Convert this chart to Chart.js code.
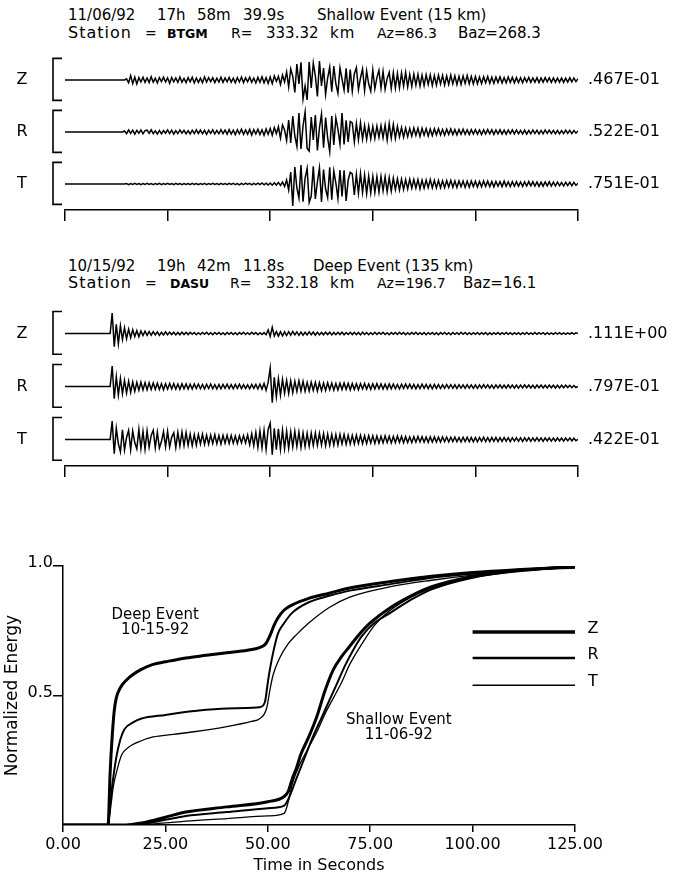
<!DOCTYPE html>
<html lang="en">
<head>
<meta charset="UTF-8">
<title>Shallow vs Deep Event - Normalized Energy</title>
<script src="https://cdn.jsdelivr.net/npm/chart.js@4.4.0/dist/chart.umd.min.js"></script>
<style>
  body { margin: 0; background: #fff; }
  #page { position: relative; width: 679px; height: 877px; overflow: hidden; font-family: "DejaVu Sans", sans-serif; color: #000; }
  .t { position: absolute; line-height: 1; white-space: pre; transform: translateY(-50%); }
  canvas { position: absolute; left: 0; }
</style>
</head>
<body>
<div id="page">
  <!-- shallow event header -->
  <span class="t" style="left:68px;top:15px;font-size:15px">11/06/92</span>
  <span class="t" style="left:157px;top:15px;font-size:15px">17h</span>
  <span class="t" style="left:197px;top:15px;font-size:15px">58m</span>
  <span class="t" style="left:243px;top:15px;font-size:15px">39.9s</span>
  <span class="t" style="left:317px;top:15px;font-size:15px">Shallow Event (15 km)</span>
  <span class="t" style="left:68px;top:33px;font-size:16px;letter-spacing:1px">Station</span>
  <span class="t" style="left:145px;top:33px;font-size:14px">=</span>
  <span class="t" style="left:167px;top:34px;font-size:12.5px;font-weight:bold">BTGM</span>
  <span class="t" style="left:231px;top:33px;font-size:14px">R=</span>
  <span class="t" style="left:266px;top:33px;font-size:15px">333.32</span>
  <span class="t" style="left:330px;top:33px;font-size:15px;letter-spacing:1px">km</span>
  <span class="t" style="left:377px;top:33px;font-size:14px">Az=86.3</span>
  <span class="t" style="left:458px;top:33px;font-size:15px">Baz=268.3</span>

  <!-- deep event header -->
  <span class="t" style="left:68px;top:266px;font-size:15px">10/15/92</span>
  <span class="t" style="left:157px;top:266px;font-size:15px">19h</span>
  <span class="t" style="left:197px;top:266px;font-size:15px">42m</span>
  <span class="t" style="left:243px;top:266px;font-size:15px">11.8s</span>
  <span class="t" style="left:313px;top:266px;font-size:15px">Deep Event (135 km)</span>
  <span class="t" style="left:68px;top:283px;font-size:16px;letter-spacing:1px">Station</span>
  <span class="t" style="left:145px;top:283px;font-size:14px">=</span>
  <span class="t" style="left:170px;top:284px;font-size:12.5px;font-weight:bold">DASU</span>
  <span class="t" style="left:230px;top:283px;font-size:14px">R=</span>
  <span class="t" style="left:266px;top:283px;font-size:15px">332.18</span>
  <span class="t" style="left:330px;top:283px;font-size:15px;letter-spacing:1px">km</span>
  <span class="t" style="left:377px;top:283px;font-size:14px">Az=196.7</span>
  <span class="t" style="left:463px;top:283px;font-size:15px">Baz=16.1</span>

  <canvas id="shallowChart" width="679" height="180" style="top:44px"></canvas>
  <canvas id="deepChart" width="679" height="183" style="top:297px"></canvas>
  <canvas id="energyChart" width="679" height="337" style="top:540px"></canvas>
</div>

<script>
  // ---- seismogram samples, every 0.5 s, in % of each trace's peak ----
  const seisTimes = Array.from({length: 251}, (_, i) => i * 0.5);
  const components = ['Z', 'R', 'T'];

  const shallowZ = [
    0,0,0,0,0,0,0,0,0,0,0,0,0,0,0,0,0,0,0,0,
    0,0,0,0,0,0,0,0,0,0,6,-14,22,-18,15,-20,12,-10,14,-12,
    10,-13,16,-11,9,-15,12,-8,14,-10,11,-16,13,-9,10,-12,15,-11,8,-13,
    12,-9,14,-15,10,-12,9,-14,16,-10,12,-8,11,-13,9,-10,14,-12,10,-9,
    13,-11,9,-14,12,-10,15,-13,11,-9,14,-12,10,-15,13,-11,16,-14,12,-17,
    15,-18,20,-6,18,-22,25,-10,40,-35,55,18,-62,80,-20,88,-95,-30,-100,90,
    -40,85,20,-82,95,-30,60,-72,10,65,-58,70,-20,-66,60,5,-50,58,-64,52,
    -56,30,62,-48,10,55,-52,45,-20,-56,50,-44,12,48,-40,42,-46,8,38,-42,
    36,-40,32,-38,35,-30,38,-34,28,-32,30,-26,28,-30,24,-28,26,-22,25,-27,
    22,-26,24,-20,23,-25,20,-22,24,-19,21,-23,18,-22,20,-17,22,-19,18,-20,
    17,-19,15,-18,16,-14,18,-16,14,-17,15,-13,16,-15,12,-14,15,-12,13,-14,
    12,-13,11,-14,12,-10,13,-12,10,-11,12,-13,10,-11,12,-9,11,-12,10,-11,
    9,-11,10,-12,9,-10,11,-9,10,-8,6
  ];
  const shallowR = [
    0,0,0,0,0,0,0,0,0,0,0,0,0,0,0,0,0,0,0,0,
    0,0,0,0,0,0,0,0,0,5,-8,10,-7,9,-11,8,-6,10,-9,7,
    9,-7,11,-8,6,-10,8,-9,7,-6,10,-8,9,-11,7,-8,10,-6,8,-9,
    7,-10,9,-8,11,-7,10,-9,8,-12,9,-7,11,-10,8,-9,12,-8,10,-11,
    12,-10,9,-13,11,-9,14,-12,10,-11,13,-15,12,-10,14,-13,11,-16,15,-12,
    18,-16,22,-8,26,-30,35,10,-42,60,-55,80,-20,-72,95,-85,30,100,-82,-95,
    75,-40,85,-92,20,90,-78,72,-30,-98,80,-65,70,15,-60,95,-62,58,-50,52,
    45,-50,42,-38,46,-35,32,-36,30,-34,28,-32,30,-26,32,-28,35,-40,42,-30,
    38,-32,28,-24,22,-26,20,-23,18,-21,20,-17,19,-22,18,-16,17,-20,15,-18,
    16,-14,17,-15,13,-16,14,-12,15,-13,12,-14,13,-11,14,-12,11,-13,12,-10,
    12,-11,10,-13,11,-10,12,-9,11,-12,10,-9,11,-10,9,-11,10,-8,11,-9,
    10,-9,8,-10,9,-11,8,-9,10,-8,9,-10,8,-9,10,-7,9,-8,8,-9,
    8,-9,7,-8,9,-7,8,-8,7,-6,5
  ];
  const shallowT = [
    0,0,0,0,0,0,0,0,0,0,0,0,0,0,0,0,0,0,0,0,
    0,0,0,0,0,0,0,0,0,0,2,-3,2,-2,3,-2,2,-3,2,-2,
    3,-2,2,-3,2,-2,3,-3,2,-2,3,-2,2,-3,3,-2,2,-3,2,-2,
    2,-3,3,-2,2,-3,2,-2,3,-3,2,-2,3,-2,2,-3,3,-2,2,-3,
    3,-2,3,-3,2,-4,3,-3,4,-2,3,-4,3,-3,4,-3,5,-4,4,-5,
    5,-6,6,-5,8,-7,10,-12,20,-30,60,-110,85,-20,-70,95,-88,30,78,-92,
    -60,88,-75,10,80,-90,72,-25,-68,84,-78,65,5,-72,70,-62,68,-85,20,58,
    50,-55,48,-46,52,-42,45,-48,40,-44,38,-42,36,-40,38,-34,36,-38,32,-35,
    30,-28,26,-30,24,-27,22,-25,24,-21,23,-20,22,-24,19,-21,20,-18,22,-19,
    18,-20,17,-19,16,-18,17,-15,18,-16,15,-17,16,-14,15,-17,14,-16,15,-13,
    14,-15,13,-14,15,-12,14,-13,12,-14,13,-11,12,-13,14,-12,11,-13,12,-11,
    12,-11,10,-12,11,-10,12,-9,11,-10,10,-12,9,-11,10,-9,11,-10,9,-10,
    10,-9,8,-10,9,-8,9,-9,8,-7,4
  ];
  const deepZ = [
    0,0,0,0,0,0,0,0,0,0,0,0,0,0,0,0,0,0,0,0,
    0,0,0,100,-65,45,-50,38,-30,28,-25,22,-20,18,-15,14,-16,12,-10,11,
    -9,10,-8,9,-7,8,-9,6,-7,8,-6,7,-5,6,-7,5,-6,7,-5,6,
    -5,6,-4,5,-6,4,-5,5,-4,6,-5,4,-6,5,-4,5,-5,4,-6,5,
    -4,5,-5,4,-6,5,-4,6,-5,4,-5,6,-4,5,-6,4,-5,5,-6,18,
    -14,30,-12,10,-13,9,-11,8,-10,9,-8,10,-7,8,-9,7,-8,6,-7,8,
    -6,7,-8,6,-7,5,-6,7,-5,6,-7,5,-6,6,-5,7,-6,5,-5,6,
    -5,6,-6,5,-7,6,-5,5,-6,4,-5,6,-5,5,-4,6,-5,4,-6,5,
    -4,5,-5,6,-4,5,-6,4,-5,5,-4,6,-5,4,-5,5,-6,4,-4,5,
    -5,4,-6,5,-4,5,-5,4,-6,5,-4,4,-5,6,-4,5,-5,4,-5,4,
    -4,5,-5,4,-4,5,-6,4,-5,4,-4,5,-5,4,-4,5,-4,4,-5,4,
    -4,4,-5,4,-4,5,-4,3,-4,5,-4,4,-3,4,-5,4,-4,3,-4,4,
    -3,4,-4,3,-4,3,-3,4,-3,3,0
  ];
  const deepR = [
    0,0,0,0,0,0,0,0,0,0,0,0,0,0,0,0,0,0,0,0,
    0,0,0,100,-60,48,-42,40,-35,30,-32,26,-28,22,-24,20,-18,21,-17,19,
    -16,18,-15,17,-14,16,-15,13,-16,14,-13,15,-12,14,-13,12,-14,13,-11,12,
    -13,11,-12,13,-10,12,-11,10,-12,11,-10,12,-11,9,-12,10,-11,10,-9,11,
    -10,9,-11,10,-9,11,-10,9,-10,8,-11,10,-9,10,-12,11,-13,15,-18,20,
    90,-80,45,-50,38,-42,35,-32,30,-34,28,-30,26,-24,28,-22,25,-23,20,-22,
    21,-19,20,-22,18,-20,17,-19,18,-16,17,-18,15,-17,16,-15,17,-14,15,-16,
    14,-15,13,-16,14,-12,15,-13,12,-14,13,-12,14,-11,12,-13,11,-12,13,-11,
    12,-11,10,-12,11,-10,12,-9,11,-10,10,-11,9,-10,11,-9,10,-10,9,-11,
    10,-9,9,-10,8,-9,10,-8,9,-9,8,-10,9,-8,8,-9,9,-8,8,-9,
    8,-9,8,-8,9,-7,8,-8,7,-9,8,-7,8,-8,7,-8,8,-7,7,-8,
    7,-8,7,-7,8,-6,7,-7,6,-8,7,-6,7,-7,6,-7,7,-6,6,-7,
    6,-7,6,-6,7,-5,6,-6,5,-5,0
  ];
  const deepT = [
    0,0,0,0,0,0,0,0,0,0,0,0,0,0,0,0,0,0,0,0,
    0,0,0,90,-70,55,-20,-60,48,-52,10,45,-50,42,-15,-46,50,-44,40,-48,
    42,-38,20,45,-40,36,-42,-10,38,-35,40,-37,12,33,-39,35,-32,36,-30,34,
    -28,26,-30,24,-27,25,-22,26,-24,21,-23,22,-20,24,-21,19,-22,20,-18,21,
    -19,20,-18,17,-20,18,-16,19,-17,22,-25,28,-30,35,-38,42,-40,45,-48,50,
    80,-75,55,-50,52,-48,46,-44,40,-42,38,-36,40,-34,36,-38,32,-35,30,-33,
    31,-29,32,-28,30,-27,29,-30,26,-28,25,-27,24,-26,25,-22,24,-23,21,-22,
    20,-22,21,-19,20,-21,18,-20,19,-17,18,-19,17,-18,16,-17,18,-15,16,-17,
    15,-16,17,-14,15,-16,14,-15,13,-15,14,-13,15,-12,14,-13,12,-14,13,-12,
    13,-12,11,-13,12,-11,12,-12,11,-10,12,-11,10,-12,11,-10,11,-11,10,-11,
    10,-11,10,-9,11,-10,9,-10,10,-9,10,-10,9,-9,10,-8,9,-10,9,-8,
    9,-9,8,-10,9,-8,9,-9,8,-8,9,-8,8,-9,8,-7,8,-8,7,-8,
    8,-7,7,-8,7,-6,7,-7,6,-6,0
  ];
  const shallowPeaks = ['.467E-01', '.522E-01', '.751E-01'];
  const deepPeaks = ['.111E+00', '.797E-01', '.422E-01'];

  // ---- cumulative normalized energy (time in s, value 0..1) ----
  const deepZTime = [0,11,11.5,12,12.5,13,14,15.5,17,19,22,25,30,35,40,45,48,49.5,50.5,51.5,52.5,54,56,60,65,70,80,90,100,110,125];
  const deepZEnergy = [0,0,0.2,0.34,0.44,0.49,0.53,0.56,0.58,0.6,0.62,0.63,0.645,0.655,0.665,0.675,0.685,0.7,0.73,0.77,0.8,0.83,0.85,0.875,0.895,0.915,0.94,0.96,0.975,0.985,0.995];
  const deepRTime = [0,11,11.5,12,13,14,15,17,19,25,32,40,48,49.3,50,50.5,51.5,52.5,54,56,60,65,70,80,90,100,110,125];
  const deepREnergy = [0,0,0.08,0.15,0.26,0.33,0.37,0.395,0.41,0.425,0.44,0.45,0.455,0.475,0.55,0.6,0.68,0.74,0.78,0.82,0.86,0.885,0.905,0.93,0.955,0.97,0.985,0.995];
  const deepTTime = [0,11,11.5,12.3,13,14.3,16,18.3,22,27,32,40,46,48,49.7,50.5,51.3,52.9,55,57,60,65,70,80,90,100,110,125];
  const deepTEnergy = [0,0,0.05,0.15,0.2,0.27,0.3,0.32,0.34,0.35,0.36,0.38,0.4,0.41,0.45,0.52,0.58,0.645,0.7,0.735,0.78,0.84,0.88,0.92,0.945,0.965,0.98,0.995];
  const shallowZTime = [0,14,20,25,30,40,50,54,55,56,57,58,60,62,64,66,68,70,72,75,80,85,90,100,110,125];
  const shallowZEnergy = [0,0,0.01,0.03,0.05,0.07,0.09,0.11,0.13,0.18,0.22,0.27,0.34,0.42,0.52,0.6,0.65,0.69,0.73,0.78,0.84,0.885,0.92,0.96,0.98,1.0];
  const shallowRTime = [0,16,20,25,30,40,50,54,55,57,59,61,63,65,67,69,71,73,76,80,85,90,100,110,125];
  const shallowREnergy = [0,0,0.005,0.02,0.035,0.05,0.065,0.075,0.1,0.18,0.26,0.34,0.41,0.48,0.55,0.62,0.68,0.73,0.78,0.82,0.87,0.91,0.955,0.98,1.0];
  const shallowTTime = [0,18,25,30,40,50,54,55,56,58,60,62,64,66,68,70,73,76,80,85,90,100,110,125];
  const shallowTEnergy = [0,0,0.008,0.015,0.025,0.035,0.045,0.09,0.16,0.24,0.3,0.36,0.43,0.49,0.55,0.62,0.7,0.77,0.83,0.88,0.915,0.955,0.98,1.0];

  const energyTicksX = [0, 25, 50, 75, 100, 125];
  const energyTicksY = [0.5, 1.0];

  Chart.defaults.font.family = '"DejaVu Sans", sans-serif';
  Chart.defaults.color = '#000';

  // brackets, component letters and peak amplitudes next to each trace
  const tracePlugin = {
    id: 'traceLabels',
    afterDraw(chart, args, opts) {
      const ctx = chart.ctx;
      const left = chart.chartArea.left, right = chart.chartArea.right;
      ctx.save();
      ctx.strokeStyle = '#000';
      ctx.fillStyle = '#000';
      ctx.lineWidth = 1.6;
      ctx.font = '16px "DejaVu Sans"';
      ctx.textBaseline = 'middle';
      components.forEach((c, i) => {
        const s = chart.scales['y' + c];
        const top = s.getPixelForValue(108), bot = s.getPixelForValue(-102), mid = s.getPixelForValue(0);
        ctx.beginPath();
        ctx.moveTo(left - 3, top);
        ctx.lineTo(left - 12, top);
        ctx.lineTo(left - 12, bot);
        ctx.lineTo(left - 3, bot);
        ctx.stroke();
        ctx.textAlign = 'center';
        ctx.fillText(c, 22, mid);
        ctx.textAlign = 'left';
        ctx.fillText(opts.peaks[i], right + 10, mid);
      });
      ctx.restore();
    }
  };

  function seismoChart(id, traces, peaks) {
    const scales = {
      x: {
        type: 'linear', min: 0, max: 125,
        ticks: {display: false, stepSize: 25},
        grid: {drawOnChartArea: false, color: '#000', lineWidth: 1.5, tickLength: 11},
        border: {color: '#000', width: 1.5},
        afterFit(s) { s.height = 12; }
      }
    };
    components.forEach((c, i) => {
      scales['y' + c] = {
        type: 'linear', position: 'left', stack: 'traces', stackWeight: 1, weight: 3 - i,
        min: -130, max: 130,
        ticks: {display: false},
        grid: {display: false, drawTicks: false},
        border: {display: false},
        afterFit(s) { s.width = 0; }
      };
    });
    return new Chart(document.getElementById(id), {
      type: 'line',
      data: {
        labels: seisTimes,
        datasets: traces.map((d, i) => ({
          data: d, yAxisID: 'y' + components[i],
          borderColor: '#000', borderWidth: 1.5, pointRadius: 0, tension: 0, fill: false
        }))
      },
      options: {
        responsive: false, animation: false,
        layout: {padding: {left: 65, right: 101, top: 10, bottom: 2}},
        plugins: {legend: {display: false}, tooltip: {enabled: false}, traceLabels: {peaks: peaks}},
        scales: scales
      },
      plugins: [tracePlugin]
    });
  }

  seismoChart('shallowChart', [shallowZ, shallowR, shallowT], shallowPeaks);
  seismoChart('deepChart', [deepZ, deepR, deepT], deepPeaks);

  // legend lines and event captions inside the energy plot
  const energyNotes = {
    id: 'energyNotes',
    afterDatasetsDraw(chart) {
      const {ctx, scales: {x, y}} = chart;
      ctx.save();
      ctx.fillStyle = '#000';
      ctx.strokeStyle = '#000';
      ctx.font = '15px "DejaVu Sans"';
      ctx.textAlign = 'center';
      ctx.textBaseline = 'middle';
      ctx.fillText('Deep Event', x.getPixelForValue(22.5), y.getPixelForValue(0.81));
      ctx.fillText('10-15-92', x.getPixelForValue(22.5), y.getPixelForValue(0.753));
      ctx.fillText('Shallow Event', x.getPixelForValue(82), y.getPixelForValue(0.405));
      ctx.fillText('11-06-92', x.getPixelForValue(82), y.getPixelForValue(0.347));
      const rows = [0.745, 0.645, 0.54];
      const widths = [3.5, 2.4, 1.5];
      ctx.font = '16px "DejaVu Sans"';
      components.forEach((c, i) => {
        const py = y.getPixelForValue(rows[i]);
        ctx.lineWidth = widths[i];
        ctx.beginPath();
        ctx.moveTo(x.getPixelForValue(100), py);
        ctx.lineTo(x.getPixelForValue(125), py);
        ctx.stroke();
        ctx.fillText(c, x.getPixelForValue(125) + 18, py - 3);
      });
      ctx.restore();
    }
  };

  const curves = [
    {t: deepZTime, v: deepZEnergy, w: 3},
    {t: deepRTime, v: deepREnergy, w: 2},
    {t: deepTTime, v: deepTEnergy, w: 1.3},
    {t: shallowZTime, v: shallowZEnergy, w: 3},
    {t: shallowRTime, v: shallowREnergy, w: 2},
    {t: shallowTTime, v: shallowTEnergy, w: 1.3}
  ];

  new Chart(document.getElementById('energyChart'), {
    type: 'line',
    data: {
      datasets: curves.map(c => ({
        data: c.t.map((t, i) => ({x: t, y: c.v[i]})),
        borderColor: '#000', borderWidth: c.w, pointRadius: 0,
        cubicInterpolationMode: 'monotone', fill: false
      }))
    },
    options: {
      responsive: false, animation: false,
      layout: {padding: {left: 0, right: 104, top: 26, bottom: 0}},
      plugins: {legend: {display: false}, tooltip: {enabled: false}},
      scales: {
        x: {
          type: 'linear', min: 0, max: 125,
          afterBuildTicks(s) { s.ticks = energyTicksX.map(v => ({value: v})); },
          ticks: {callback: v => v.toFixed(2), font: {size: 16}, padding: 3, maxRotation: 0},
          grid: {drawOnChartArea: false, color: '#000', lineWidth: 1.5, tickLength: 7},
          border: {color: '#000', width: 1.5},
          title: {display: true, text: 'Time in Seconds', font: {size: 16}, padding: {top: 0, bottom: 2}},
          afterFit(s) { s.height = 52; }
        },
        y: {
          min: 0, max: 1,
          afterBuildTicks(s) { s.ticks = energyTicksY.map(v => ({value: v})); },
          ticks: {callback: v => v.toFixed(1), font: {size: 16}, padding: 0, labelOffset: -3},
          grid: {drawOnChartArea: false, color: '#000', lineWidth: 1.5, tickLength: 10},
          border: {color: '#000', width: 1.5},
          title: {display: true, text: 'Normalized Energy', font: {size: 17}, padding: {top: 2, bottom: 0}},
          afterFit(s) { s.width = 63; }
        }
      }
    },
    plugins: [energyNotes]
  });
</script>
</body>
</html>
